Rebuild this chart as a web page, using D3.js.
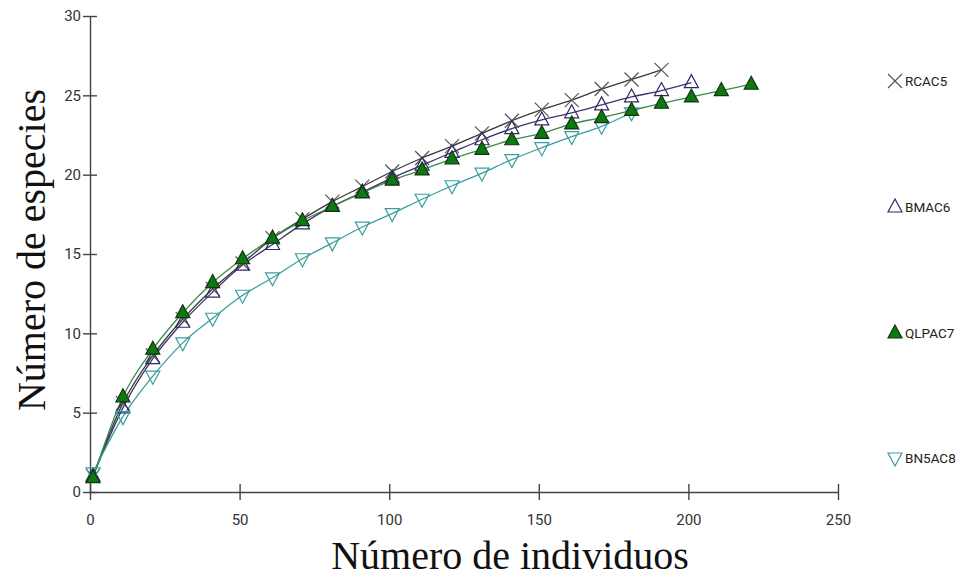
<!DOCTYPE html>
<html>
<head>
<meta charset="utf-8">
<script src="https://cdn.jsdelivr.net/npm/d3@7"></script>
<style>
  body { margin: 0; background: #fff; }
  svg { display: block; }
</style>
</head>
<body>
<div id="chart"></div>
<script>
// individuals sampled (x) for each point
const xRC = [1, 11, 21, 31, 41, 51, 61, 71, 81, 91, 101, 111, 121, 131, 141, 151, 161, 171, 181, 191];
const xBM = [1, 11, 21, 31, 41, 51, 61, 71, 81, 91, 101, 111, 121, 131, 141, 151, 161, 171, 181, 191, 201];
const xQL = [1, 11, 21, 31, 41, 51, 61, 71, 81, 91, 101, 111, 121, 131, 141, 151, 161, 171, 181, 191, 201, 211, 221];
const xBN = [1, 11, 21, 31, 41, 51, 61, 71, 81, 91, 101, 111, 121, 131, 141, 151, 161, 171, 181];

// species counts
const rcac5 = [1, 5.6, 8.6, 10.9, 12.8, 14.4, 16.0, 17.2, 18.3, 19.25, 20.2, 21.05, 21.8, 22.6, 23.4, 24.1, 24.7, 25.4, 26.0, 26.6];
const bmac6 = [1, 5.3, 8.4, 10.7, 12.6, 14.3, 15.6, 16.9, 18.0, 18.9, 19.8, 20.6, 21.4, 22.2, 22.9, 23.45, 23.9, 24.4, 24.9, 25.3, 25.8];
const qlpac7 = [0.9, 6.0, 9.0, 11.3, 13.2, 14.7, 16.0, 17.1, 18.0, 18.85, 19.65, 20.3, 21.0, 21.6, 22.2, 22.6, 23.2, 23.6, 24.05, 24.5, 24.9, 25.3, 25.7];
const bn5ac8 = [1.2, 4.75, 7.3, 9.4, 10.95, 12.4, 13.5, 14.7, 15.7, 16.7, 17.55, 18.45, 19.3, 20.1, 20.95, 21.7, 22.4, 23.05, 23.9];

const xTicks = [0, 50, 100, 150, 200, 250];
const yTicks = [0, 5, 10, 15, 20, 25, 30];

const width = 956;
const height = 577;
const margin = {top: 16, right: 118, bottom: 85, left: 90};

const tickFont = '"Liberation Sans Narrow", "Arial Narrow", Roboto, sans-serif';
const titleFont = '"Liberation Serif", "DejaVu Serif", serif';

const svg = d3.select('#chart')
    .append('svg')
    .attr('width', width)
    .attr('height', height);

const x = d3.scaleLinear()
    .domain([0, 250])
    .range([margin.left, width - margin.right]);

const y = d3.scaleLinear()
    .domain([0, 30])
    .range([height - margin.bottom, margin.top]);

const triUp = 'M0,-8L7,5L-7,5Z';
const triDown = 'M0,8L7,-5L-7,-5Z';
const cross = 'M-7,-7L7,7M-7,7L7,-7';

const series = [
    { name: 'RCAC5', xs: xRC, ys: rcac5, line: '#3a3a3a', stroke: '#555', fill: 'none', shape: cross, legendY: 81 },
    { name: 'BMAC6', xs: xBM, ys: bmac6, line: '#3d3470', stroke: '#2e2a66', fill: 'none', shape: triUp, legendY: 207 },
    { name: 'BN5AC8', xs: xBN, ys: bn5ac8, line: '#3a9e9e', stroke: '#3a9e9e', fill: 'none', shape: triDown, legendY: 458 },
    { name: 'QLPAC7', xs: xQL, ys: qlpac7, line: '#3c8a4a', stroke: '#143214', fill: '#0a7a10', shape: triUp, legendY: 333 }
];

// axes
function xAxis(g) {
    g.attr('transform', `translate(0, ${y(0)})`)
        .call(d3.axisBottom(x).tickValues(xTicks).tickSizeInner(8).tickSizeOuter(0).tickPadding(14))
        .call(g => g.selectAll('.tick line').attr('y1', -8))
        .attr('font-family', tickFont)
        .attr('font-size', 15);
}

function yAxis(g) {
    g.attr('transform', `translate(${x(0)}, 0)`)
        .call(d3.axisLeft(y).tickValues(yTicks).tickSizeInner(7).tickSizeOuter(0).tickPadding(2))
        .call(g => g.selectAll('.tick line').attr('x1', 7))
        .attr('font-family', tickFont)
        .attr('font-size', 15);
}

svg.append('g').call(xAxis);
svg.append('g').call(yAxis);

svg.selectAll('.domain, .tick line').attr('stroke', '#444').attr('stroke-width', 1.4);
svg.selectAll('.tick text').attr('fill', '#333');

// curves and markers
const line = d3.line()
    .x(d => x(d[0]))
    .y(d => y(d[1]))
    .curve(d3.curveMonotoneX);

series.forEach(s => {
    const pts = s.xs.map((v, i) => [v, s.ys[i]]);
    svg.append('path')
        .datum(pts)
        .attr('fill', 'none')
        .attr('stroke', s.line)
        .attr('stroke-width', 1.3)
        .attr('d', line);
});

series.forEach(s => {
    const pts = s.xs.map((v, i) => [v, s.ys[i]]);
    svg.append('g')
        .selectAll('path')
        .data(pts)
        .join('path')
            .attr('transform', d => `translate(${x(d[0])},${y(d[1])})`)
            .attr('d', s.shape)
            .attr('fill', s.fill)
            .attr('stroke', s.stroke)
            .attr('stroke-width', 1.2);
});

// legend
const legend = svg.append('g')
    .selectAll('g')
    .data(series)
    .join('g')
        .attr('transform', d => `translate(895, ${d.legendY})`);

legend.append('path')
    .attr('d', d => d.shape)
    .attr('fill', d => d.fill)
    .attr('stroke', d => d.stroke)
    .attr('stroke-width', 1.2);

legend.append('text')
    .attr('x', 10)
    .attr('dy', '0.35em')
    .attr('font-family', tickFont)
    .attr('font-size', 13.5)
    .attr('fill', '#222')
    .text(d => d.name);

// axis titles
svg.append('text')
    .attr('x', 510)
    .attr('y', 569)
    .attr('text-anchor', 'middle')
    .attr('font-family', titleFont)
    .attr('font-size', 40)
    .attr('fill', '#111')
    .text('Número de individuos');

svg.append('text')
    .attr('transform', 'translate(45, 250) rotate(-90)')
    .attr('text-anchor', 'middle')
    .attr('font-family', titleFont)
    .attr('font-size', 40)
    .attr('fill', '#111')
    .text('Número de especies');
</script>
</body>
</html>
